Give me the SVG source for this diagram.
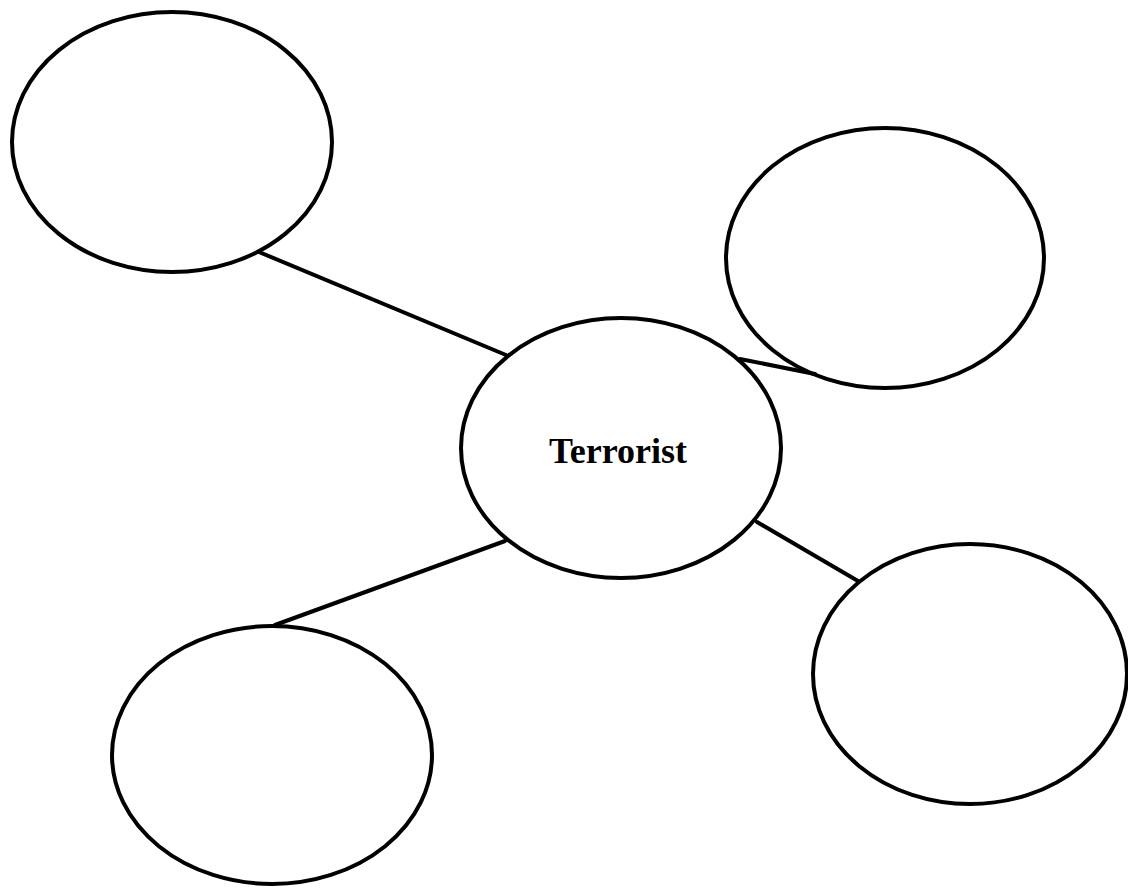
<svg xmlns="http://www.w3.org/2000/svg" width="1128" height="888" viewBox="0 0 1128 888">
<style>
.n{fill:#fff;stroke:#000;stroke-width:4}
.c line{stroke:#000;stroke-width:4;stroke-linecap:round}
.t{font-family:"Liberation Serif",serif;font-weight:bold;font-size:36px;fill:#000}
</style>
<rect width="1128" height="888" fill="#fff"/>
<g id="connectors" class="c">
<line x1="259" y1="252" x2="506" y2="355"/>
<line x1="740" y1="359" x2="815" y2="374"/>
<line x1="505" y1="541" x2="275" y2="625"/>
<line x1="757" y1="522" x2="858" y2="581"/>
</g>
<g id="top-left"><ellipse class="n" cx="172" cy="142" rx="160" ry="130"/></g>
<g id="top-right"><ellipse class="n" cx="885" cy="258" rx="159" ry="130" style="fill:none"/></g>
<g id="center"><ellipse class="n" cx="621" cy="448" rx="160" ry="130" style="fill:none"/>
<text class="t" x="618" y="463" text-anchor="middle">Terrorist</text></g>
<g id="bottom-left"><ellipse class="n" cx="272" cy="755" rx="160" ry="129"/></g>
<g id="bottom-right"><ellipse class="n" cx="970" cy="674" rx="157" ry="130"/></g>
</svg>
